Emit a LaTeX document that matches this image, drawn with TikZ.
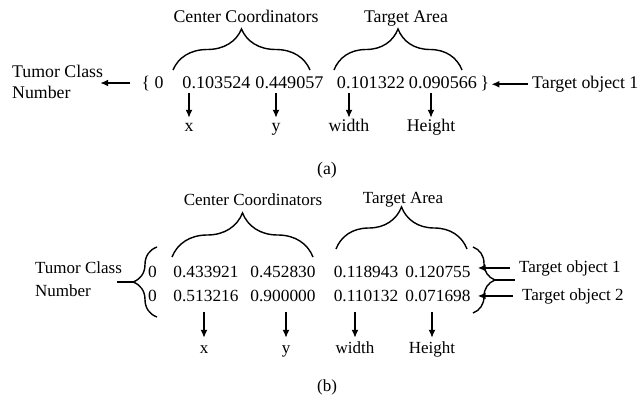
\documentclass[tikz,border=0pt]{standalone}
\usepackage{fontspec}
\setmainfont{Liberation Serif}
\newfontfamily\numfont[FakeStretch=1.02]{Liberation Serif}
\usetikzlibrary{arrows.meta, decorations.pathreplacing}

\tikzset{
  fa/.style={font=\fontsize{17.8}{21}\selectfont, inner sep=2pt},
  fb/.style={font=\fontsize{17}{23}\selectfont, inner sep=2pt},
  numa/.style={font=\fontsize{17.8}{21}\numfont, inner sep=2pt, anchor=base},
  numb/.style={font=\fontsize{17}{23}\numfont, inner sep=2pt, anchor=base},
  lbl/.style={text height=12pt, text depth=4pt, inner sep=1pt},
  seta/.style={line width=1.5pt, -{Latex[length=8pt,width=7pt]}},
  chave/.style={line width=1.4pt, decorate, decoration={brace, amplitude=#1}},
}

\begin{document}
\begin{tikzpicture}[x=1pt, y=-1pt]
    \useasboundingbox (0,0) rectangle (641,399);
    % (a) uma linha
    \node[fa, anchor=base] (ccA) at (246,22.5) {Center Coordinators};
    \node[fa, anchor=base] (taA) at (406,22.5) {Target Area};
    \draw[chave=41] (173,70) -- (310,70); % chave centro
    \draw[chave=41] (334,70) -- (462,70); % chave area
    \node[fa, anchor=base] (lbA) at (152.5,88) {\{ 0};
    \node[numa] (nA1) at (216.5,88) {0.103524};
    \node[numa] (nA2) at (289.5,88) {0.449057};
    \node[numa] (nA3) at (371,88) {0.101322};
    \node[numa] (nA4) at (443,88) {0.090566};
    \node[fa, anchor=base] (rbA) at (485,88) {\}};
    \node[fa, align=left, anchor=west] (tcA) at (10,81.5) {Tumor Class\\Number};
    \node[fa, anchor=base west] (to1A) at (530,88.5) {Target object 1};
    \draw[seta, shorten <=9pt, shorten >=-5pt] (lbA.west) -- (tcA.east |- lbA.west); % classe
    \draw[seta, shorten <=2pt] (to1A.west) -- (rbA.east |- to1A.west); % objeto
    \node[fa, lbl] (lxA) at (189,127) {x};
    \node[fa, lbl] (lyA) at (276,127) {y};
    \node[fa, lbl] (lwA) at (349,127) {width};
    \node[fa, lbl] (lhA) at (431,127) {Height};
    \foreach \l in {lxA, lyA, lwA, lhA}
        \draw[seta, shorten <=3pt] (\l |- nA1.south) -- (\l);
    \node[fa] (capA) at (327,170) {(a)};

    % (b) duas linhas
    \node[fb, anchor=base] (ccB) at (253,205) {Center Coordinators};
    \node[fb, anchor=base] (taB) at (403,203) {Target Area};
    \draw[chave=44] (172,257) -- (313,257); % chave centro
    \draw[chave=42] (336,249) -- (467,249); % chave area
    \node[numb] (zB1) at (152.5,277) {0};
    \node[numb] (nB11) at (206,277) {0.433921};
    \node[numb] (nB12) at (283,277) {0.452830};
    \node[numb] (nB13) at (366,277) {0.118943};
    \node[numb] (nB14) at (438,277) {0.120755};
    \node[numb] (zB2) at (152.5,301.5) {0};
    \node[numb] (nB21) at (206,301.5) {0.513216};
    \node[numb] (nB22) at (283,301.5) {0.900000};
    \node[numb] (nB23) at (366,301.5) {0.110132};
    \node[numb] (nB24) at (438,301.5) {0.071698};
    \draw[chave=24] (157,317) -- (157,247); % chave esquerda
    \draw[chave=22] (473,247) -- (473,313); % chave direita
    \coordinate (ltip) at (133,282);
    \coordinate (lfim) at (117,282);
    \coordinate (rtip) at (495,280);
    \coordinate (rfim) at (515,280);
    \draw[line width=1.4pt] (lfim) -- (ltip);
    \draw[line width=1.4pt] (rtip) -- (rfim);
    \node[fb, align=left, anchor=west] (tcB) at (33,279.5) {Tumor Class\\Number};
    \node[fb, anchor=base west] (to1B) at (517,272) {Target object 1};
    \node[fb, anchor=base west] (to2B) at (520,300) {Target object 2};
    \draw[seta, shorten <=7pt, shorten >=5pt] (to1B.west) -- (nB14.east |- to1B.west);
    \draw[seta, shorten <=7pt, shorten >=5pt] (to2B.west) -- (nB24.east |- to2B.west);
    \node[fb, lbl] (lxB) at (204,349) {x};
    \node[fb, lbl] (lyB) at (286,349) {y};
    \node[fb, lbl] (lwB) at (355,349) {width};
    \node[fb, lbl] (lhB) at (432,349) {Height};
    \foreach \l in {lxB, lyB, lwB, lhB}
        \draw[seta, shorten <=8pt, shorten >=2pt] (\l |- nB21.south) -- (\l);
    \node[fb] (capB) at (327,387) {(b)};
\end{tikzpicture}
\end{document}
